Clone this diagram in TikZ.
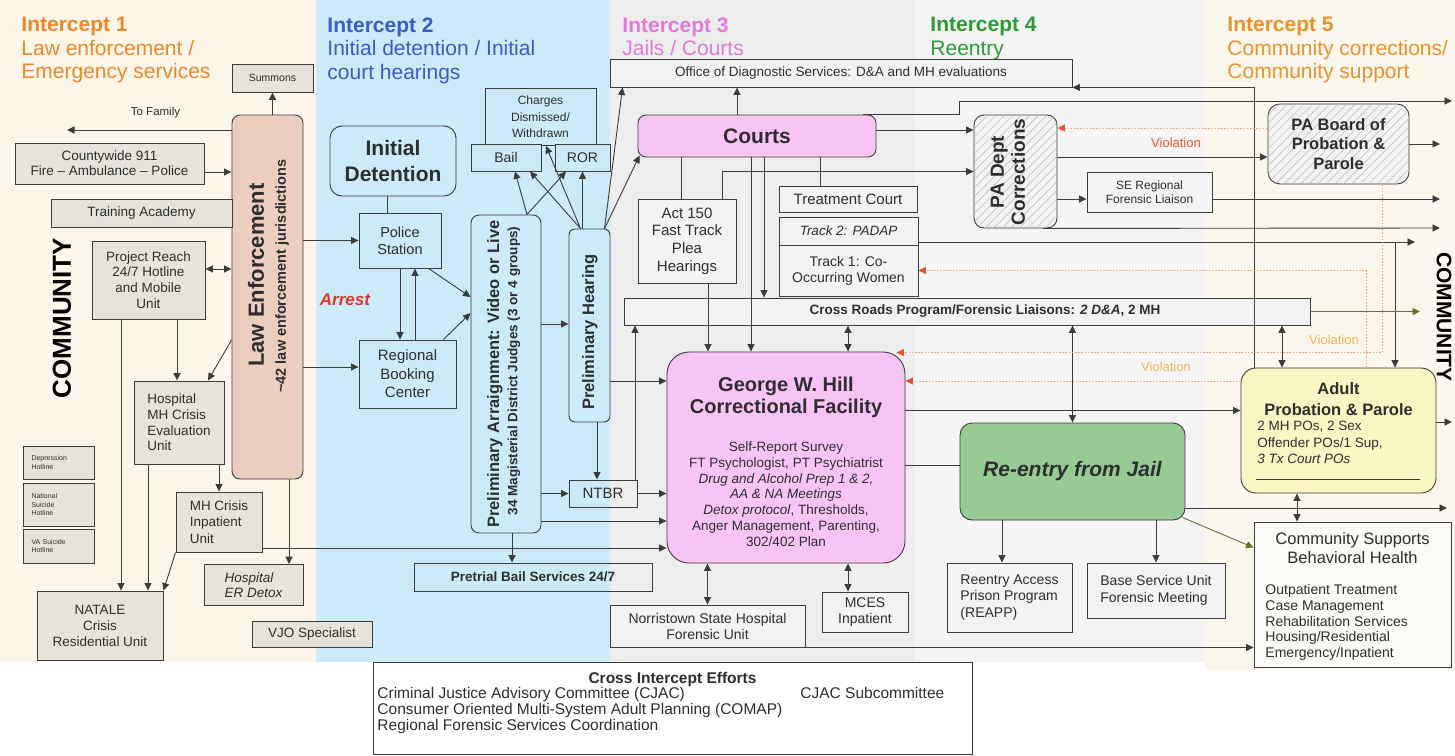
\documentclass[tikz,border=0pt]{standalone}
\usepackage{fontspec}
\setmainfont{Liberation Sans}
\usepackage{tikz}
\usetikzlibrary{arrows.meta}
\usetikzlibrary{patterns.meta}
\usetikzlibrary{calc}

\definecolor{bandone}{HTML}{FCF5EA}
\definecolor{bandtwo}{HTML}{CDEAF8}
\definecolor{bandthree}{HTML}{EDEDED}
\definecolor{bandfour}{HTML}{F4F4F4}
\definecolor{bandfive}{HTML}{FCF7EC}
\definecolor{fillone}{HTML}{E6E4D9}
\definecolor{fillthree}{HTML}{F2F2F2}
\definecolor{lawfill}{HTML}{EBCEC0}
\definecolor{pinkfill}{HTML}{F7C4F4}
\definecolor{greenfill}{HTML}{96CB94}
\definecolor{yellowfill}{HTML}{FAF6C4}
\definecolor{csfill}{HTML}{FAFAF6}
\definecolor{edge}{HTML}{3C3C3C}
\definecolor{txt}{HTML}{2E2E2E}
\definecolor{hdone}{HTML}{E8892C}
\definecolor{hdtwo}{HTML}{3C5CC4}
\definecolor{hdthree}{HTML}{E27ADB}
\definecolor{hdfour}{HTML}{2E9A35}
\definecolor{hdfive}{HTML}{E8922E}
\definecolor{arrestred}{HTML}{D93A2B}
\definecolor{violred}{HTML}{E4552E}
\definecolor{violline}{HTML}{F1A878}
\definecolor{violorange}{HTML}{F0B25C}
\definecolor{olivearrow}{HTML}{6C6E36}
\definecolor{hatchgray}{HTML}{B8B8B8}

\newcommand\fsz[2]{\fontsize{#1}{#2}\selectfont}

\tikzset{
bx/.style={
  rectangle,
  inner sep=1pt,
  align=center,
  draw=edge,
  line width=0.9pt,
  text=txt
  },
b1/.style={bx, fill=fillone},
b2/.style={bx, fill=bandtwo},
b3/.style={bx, fill=fillthree},
rb/.style={bx, rounded corners=8pt},
hatch/.style={bx, rounded corners=10pt, fill=fillthree,
  postaction={pattern={Lines[angle=45,distance=6pt,line width=0.5pt]}, pattern color=hatchgray}},
wh/.style 2 args={minimum width=#1, minimum height=#2},
tx/.style={inner sep=0pt, align=center, text=txt},
hd/.style={anchor=north west, align=left, inner sep=0pt, font=\fsz{21}{23.5}},
viol/.style={draw=violline, dash pattern=on 1.6pt off 1.6pt,
  -{Triangle[length=7.5pt,width=7pt,color=violred]}}
}

\begin{document}
\begin{tikzpicture}[x=1pt,y=-1pt,>={Triangle[length=7.5pt,width=7pt]},line width=0.9pt,color=edge]
\useasboundingbox (0,0) rectangle (1455,755);
\fill[bandone] (0,0) rectangle (316,662);
\fill[bandtwo] (316,0) rectangle (610,662);
\fill[bandthree] (610,0) rectangle (915,662);
\fill[bandfour] (915,0) rectangle (1205,662);
\fill[bandfive] (1205,0) rectangle (1455,670);

\node[hd,text=hdone] (hone) at (21,17) {\textbf{Intercept 1}\\Law enforcement /\\Emergency services};
\node[hd,text=hdtwo] (htwo) at (327,17) {\textbf{Intercept 2}\\Initial detention / Initial\\court hearings};
\node[hd,text=hdthree] (hthree) at (622,17) {\textbf{Intercept 3}\\Jails / Courts};
\node[hd,text=hdfour] (hfour) at (930,17) {\textbf{Intercept 4}\\Reentry};
\node[hd,text=hdfive] (hfive) at (1227,17) {\textbf{Intercept 5}\\Community corrections/\\Community support};

% intercept 1
\node[b1,wh={81}{28},font=\fsz{10.5}{12}] (summons) at (272.5,78) {Summons};
\node[rb,fill=lawfill,wh={71}{364}] (lawenf) at (267.5,297) {};
\node[tx,rotate=90,font=\bfseries\fsz{22}{24}] (lawtitle) at (256,275) {Law Enforcement};
\node[tx,rotate=90,font=\bfseries\fsz{14.5}{16}] (lawsub) at (282,276) {\textasciitilde 42 law enforcement jurisdictions};
\node[b1,wh={189}{41},font=\fsz{13.5}{15}] (cw911) at (109.5,163.5) {Countywide 911\\Fire -- Ambulance -- Police};
\node[b1,wh={181}{28},font=\fsz{13.5}{15}] (academy) at (141.5,213) {Training Academy};
\node[b1,wh={113}{78},font=\fsz{13.5}{15.7}] (reach) at (148.5,280) {Project Reach\\24/7 Hotline\\and Mobile\\Unit};
\node[b1,wh={90}{83},align=left,font=\fsz{13.5}{15.7}] (hospeval) at (179,422.5) {Hospital\\MH Crisis\\Evaluation\\Unit};
\node[b1,wh={86}{60},align=left,font=\fsz{13.5}{16.5}] (crisisinp) at (219,522) {MH Crisis\\Inpatient\\Unit};
\node[b1,wh={99}{41},align=left,font=\itshape\fsz{13.5}{15.5}] (erdetox) at (253.5,585) {Hospital\\ER Detox};
\node[b1,wh={126}{69},font=\fsz{13.5}{16}] (natale) at (100,625.5) {NATALE\\Crisis\\Residential Unit};
\node[b1,wh={71}{33},text width=54,align=left,font=\fsz{7}{8.5}] (hotdep) at (58.5,462.5) {Depression\\Hotline};
\node[b1,wh={71}{43},text width=54,align=left,font=\fsz{7}{8.5}] (hotnat) at (58.5,504.5) {National\\Suicide\\Hotline};
\node[b1,wh={71}{34},text width=54,align=left,font=\fsz{7}{8.5}] (hotva) at (58.5,546) {VA Suicide\\Hotline};
\node[b1,wh={120}{26},font=\fsz{13.5}{15}] (vjo) at (312,634) {VJO Specialist};
\node[tx,rotate=90,text=black,font=\bfseries\fsz{26}{28}] (commleft) at (62,318) {COMMUNITY};
\coordinate (tofam) at (67,130);
\node[tx,font=\fsz{11.5}{13}] (tofamtxt) at (155.5,113) {To Family};

% intercept 2
\node[rb,fill=bandtwo,rounded corners=12pt,wh={126}{70},font=\bfseries\fsz{21}{26}] (initdet) at (393,161) {Initial\\Detention};
\node[b2,wh={82}{55},font=\fsz{14.5}{17}] (police) at (400,240.5) {Police\\Station};
\node[b2,wh={97}{68},font=\fsz{15}{18.5}] (rbc) at (407.5,374) {Regional\\Booking\\Center};
\node[rb,fill=bandtwo,wh={70}{318}] (arraign) at (506,374) {};
\node[tx,rotate=90,font=\bfseries\fsz{16.5}{18}] (arrtitle) at (495,374) {Preliminary Arraignment: Video or Live};
\node[tx,rotate=90,font=\bfseries\fsz{13.5}{15}] (arrsub) at (514,371) {34 Magisterial District Judges (3 or 4 groups)};
\node[rb,fill=bandtwo,rounded corners=6pt,wh={41}{193}] (hearing) at (589.5,325.5) {};
\node[tx,rotate=90,font=\bfseries\fsz{16.5}{18}] (heartitle) at (590,332) {Preliminary Hearing};
\node[bx,wh={68}{27},font=\fsz{15}{17}] (ntbr) at (603,493.5) {NTBR};
\node[bx,wh={238}{28},font=\bfseries\fsz{13.5}{15}] (pretrial) at (533,577) {Pretrial Bail Services 24/7};
\node[b2,wh={111}{57},font=\fsz{12}{16.5}] (charges) at (540.5,117) {Charges\\Dismissed/\\Withdrawn};
\node[b2,wh={70}{27},font=\fsz{14}{16}] (bail) at (506,157.5) {Bail};
\node[b2,wh={55}{27},font=\fsz{14}{16}] (ror) at (582.5,157.5) {ROR};
\node[tx,text=arrestred,font=\bfseries\itshape\fsz{17}{19}] (arrest) at (345,300) {Arrest};

% intercept 3
\node[b3,wh={462}{28},font=\fsz{13.5}{15}] (ods) at (841,73) {Office of Diagnostic Services: D\&A and MH evaluations};
\node[rb,fill=pinkfill,wh={238}{42},font=\bfseries\fsz{21}{24}] (courts) at (757,136) {Courts};
\node[b3,wh={98}{84},font=\fsz{15}{17.7}] (act150) at (687,241) {Act 150\\Fast Track\\Plea\\Hearings};
\node[b3,wh={138}{26},font=\fsz{15}{17}] (treat) at (848,199) {Treatment Court};
\node[b3,wh={139}{28},font=\itshape\fsz{13.5}{15}] (track2) at (848.5,231) {Track 2: PADAP};
\node[b3,wh={139}{51},font=\fsz{14}{16}] (track1) at (848.5,270.5) {Track 1: Co-\\Occurring Women};
\node[b3,wh={686}{27},font=\bfseries\fsz{13.5}{15}] (crossroads) at (967,311.5) {\hspace*{36pt}Cross Roads Program/Forensic Liaisons: \textit{2 D\&A}, 2 MH};
\node[rb,fill=pinkfill,rounded corners=22pt,wh={238}{211}] (gwh) at (786,457.5) {};
\node[tx,font=\bfseries\fsz{20}{21.5}] (gwhtitle) at (786,397.5) {George W. Hill\\Correctional Facility};
\node[tx,font=\fsz{13.5}{15.8}] (gwhbody) at (786,494) {Self-Report Survey\\FT Psychologist, PT Psychiatrist\\\textit{Drug and Alcohol Prep 1 \& 2,}\\\textit{AA \& NA Meetings}\\\textit{Detox protocol}, Thresholds,\\Anger Management, Parenting,\\302/402 Plan};
\node[b3,wh={195}{42},font=\fsz{14}{16}] (norris) at (707.5,626) {Norristown State Hospital\\Forensic Unit};
\node[b3,wh={86}{40},font=\fsz{14}{16}] (mces) at (865,612) {MCES\\Inpatient};

% intercept 4
\node[hatch,wh={83}{113}] (padc) at (1015.5,171.5) {};
\node[tx,rotate=90,font=\bfseries\fsz{19}{21}] (padctitle) at (1008,172) {PA Dept\\Corrections};
\node[b3,wh={125}{40},font=\fsz{12}{14.5}] (seliaison) at (1149.5,192) {SE Regional\\Forensic Liaison};
\node[rb,fill=greenfill,rounded corners=12pt,wh={225}{97},font=\bfseries\itshape\fsz{21}{24}] (reentry) at (1072.5,471.5) {Re-entry from Jail};
\node[b3,wh={125}{69},align=left,font=\fsz{14}{16.5}] (reapp) at (1009.5,597.5) {Reentry Access\\Prison Program\\(REAPP)};
\node[b3,wh={138}{55},align=left,font=\fsz{14}{16.5}] (baseunit) at (1156,590.5) {Base Service Unit\\Forensic Meeting};

% intercept 5
\node[hatch,rounded corners=12pt,wh={141}{80},font=\bfseries\fsz{16.5}{19.5}] (pabpp) at (1338.5,144) {PA Board of\\Probation \&\\Parole};
\node[rb,fill=yellowfill,rounded corners=15pt,wh={195}{125}] (app) at (1338.5,430.5) {};
\node[tx,font=\bfseries\fsz{16.5}{20.5}] (apptitle) at (1338.5,399) {Adult\\Probation \& Parole};
\node[tx,anchor=north west,align=left,font=\fsz{13.5}{16.5}] (appbody) at (1257,421) {2 MH POs, 2 Sex\\Offender POs/1 Sup,\\\textit{3 Tx Court POs}};
\draw[line width=1.3pt] ([xshift=15,yshift=14]app.south west) -- ([xshift=-16,yshift=14]app.south east);
\node[bx,fill=csfill,wh={197}{145}] (commsup) at (1352.5,594.5) {};
\node[tx,font=\fsz{16.5}{19}] (cstitle) at (1352.5,548.5) {Community Supports\\Behavioral Health};
\node[tx,anchor=north west,align=left,font=\fsz{14}{15.7}] (csbody) at (1265,584) {Outpatient Treatment\\Case Management\\Rehabilitation Services\\Housing/Residential\\Emergency/Inpatient};
\node[tx,rotate=-90,text=black,font=\bfseries\fsz{21}{23}] (commright) at (1444,317) {COMMUNITY};

% cross intercept efforts
\node[bx,fill=white,wh={599}{92}] (cross) at (672.5,708) {};
\node[tx,font=\bfseries\fsz{15.5}{17}] (crosstitle) at (672.5,679) {Cross Intercept Efforts};
\node[tx,anchor=north west,align=left,font=\fsz{15.5}{16}] (crossbody) at (377,687) {Criminal Justice Advisory Committee (CJAC)\\Consumer Oriented Multi-System Adult Planning (COMAP)\\Regional Forensic Services Coordination};
\node[tx,anchor=north west,font=\fsz{15.5}{16}] (cjacsub) at (800,687) {CJAC Subcommittee};

% connectors, intercept 1
\draw[->] (summons.south |- lawenf.north) -- (summons.south);
\draw[->] (lawenf.west |- tofam) -- (tofam);
\draw[->] ([yshift=-8.5]cw911.east) -- ([yshift=-8.5]cw911.east -| lawenf.west);
\draw[<->] ([yshift=11]reach.east) -- ([yshift=11]reach.east -| lawenf.west);
\draw[->] ([xshift=28.5]reach.south) -- ([xshift=28.5]reach.south |- hospeval.north);
\draw[->] ([xshift=-27.5]reach.south) -- ([xshift=-27.5]reach.south |- natale.north);
\draw[->] ([yshift=-43]lawenf.west) -- ([xshift=29]hospeval.north);
\draw[->] ([xshift=-31]hospeval.south) -- ([xshift=-31]hospeval.south |- natale.north);
\draw[->] (crisisinp.north |- hospeval.south) -- (crisisinp.north);
\draw[->] (crisisinp.south west) -- (natale.north east);
\draw[->] ([xshift=21.5]lawenf.south) -- ([xshift=21.5]lawenf.south |- erdetox.north);
\draw[->] ([yshift=-26]crisisinp.east) -- ([yshift=-26]crisisinp.east -| gwh.west);

% intercept 2
\draw ([xshift=-6]initdet.south) -- ([xshift=-6]initdet.south |- police.north);
\draw[->] (lawenf.east |- police.west) -- (police.west);
\draw[->] ([yshift=7]rbc.west -| lawenf.east) -- ([yshift=7]rbc.west);
\draw[->] (police.south) -- (police.south |- rbc.north);
\draw[->] ([xshift=15]police.south |- rbc.north) -- ([xshift=15]police.south);
\draw[->] ([xshift=-13]police.south east) -- ([yshift=77]arraign.west);
\draw[->] ([xshift=-13]rbc.north east) -- ([yshift=61]arraign.west);
\draw[->] ([yshift=50]arraign.east) -- ([yshift=50]arraign.east -| hearing.west);
\draw[->] (arraign.east |- ntbr.west) -- (ntbr.west);
\draw[->] ([xshift=7.5]hearing.south) -- ([xshift=7.5]hearing.south |- ntbr.north);
\draw[->] (ntbr.east) -- (ntbr.east -| gwh.west);
\draw[->] ([yshift=-147]arraign.east) -- ([yshift=-147]arraign.east -| gwh.west);
\draw[->] ([xshift=6]arraign.south) -- ([xshift=6]arraign.south |- pretrial.north);
\draw[->] ([yshift=-55.5]hearing.east) -- ([yshift=-55.5]hearing.east -| gwh.west);
\draw[->] ([xshift=32]ntbr.north) -- ([xshift=32]ntbr.north |- crossroads.south);
\draw[->] ([xshift=21]arraign.north) -- ([xshift=9]bail.south);
\draw[->] ([xshift=21]arraign.north) -- ([xshift=-16.5]ror.south);
\draw[->] ([xshift=-9]hearing.north) -- ([xshift=24]bail.south);
\draw[->] ([xshift=-9]hearing.north) -- ([xshift=5.5]charges.south);
\draw[->] (ror.south |- hearing.north) -- (ror.south);
\draw[->] ([xshift=15]hearing.north) -- ([xshift=13]ods.south west);
\draw[->] ([xshift=15]hearing.north) -- ([xshift=2,yshift=2]courts.south west);

% intercept 3 and 4
\coordinate (outa) at (1452,101);
\coordinate (outb) at (1440,144);
\coordinate (outc) at (1440,199);
\coordinate (outd) at (1440,228);
\coordinate (oute) at (1415,242);
\coordinate (outf) at (1420,311.5);
\coordinate (outg) at (1447,508);
\coordinate (outh) at (1452,422);
\draw[->] ([xshift=-20]courts.north) -- ([xshift=-20]courts.north |- ods.south);
\draw ([xshift=-6]act150.north |- courts.south) -- ([xshift=-6]act150.north);
\draw[->] ([xshift=35]act150.north) |- (padc.west);
\draw[->] ([xshift=21]act150.south) -- ([xshift=21]act150.south |- gwh.north);
\draw[->] ([xshift=-6]courts.south) -- ([xshift=-6]courts.south |- gwh.north);
\draw[->] ([xshift=7]courts.south) -- ([xshift=7]courts.south |- crossroads.north);
\draw ([xshift=-28]treat.north |- courts.south) -- ([xshift=-28]treat.north);
\draw[->] ([xshift=-13]courts.north east) -- ([xshift=-14]padc.north west) |- (outa);
\draw[->] ([yshift=6]courts.east) -- ([yshift=6]courts.east -| padc.west);
\draw[->] ([yshift=-7]seliaison.west -| padc.east) -- ([yshift=-7]seliaison.west);
\draw[->] ([yshift=-13]pabpp.west -| padc.east) -- ([yshift=-13]pabpp.west);
\draw[->] (pabpp.east) -- (outb);
\draw[->] ([yshift=-7]seliaison.east) -- (outc);
\draw[->] ([xshift=-14]padc.south east) -- (outd);
\draw[->] ([yshift=-11]track2.east) -- (oute);
\draw[->] ([xshift=56.5]app.north |- oute) -- ([xshift=56.5]app.north);
\draw[->,olivearrow] (crossroads.east) -- (outf);
\draw[<->] ([xshift=-56.5]app.north |- crossroads.south) -- ([xshift=-56.5]app.north);
\draw[<->] (reentry.north |- crossroads.south) -- (reentry.north);
\draw[<->] ([xshift=62]gwh.north |- crossroads.south) -- ([xshift=62]gwh.north);
\draw[<->] (norris.north |- gwh.south) -- (norris.north);
\draw[<->] ([xshift=-17]mces.north |- gwh.south) -- ([xshift=-17]mces.north);
\draw[->] ([yshift=20]app.west -| gwh.east) -- ([yshift=20]app.west);
\draw ([yshift=6]reentry.west -| gwh.east) -- ([yshift=6]reentry.west);
\draw[->] ([xshift=-7.5]reapp.north |- reentry.south) -- ([xshift=-7.5]reapp.north);
\draw[->] (baseunit.north |- reentry.south) -- (baseunit.north);
\draw[->] ([yshift=-36.5]reentry.east) -- (outg);
\draw[->,olivearrow] ([xshift=-3,yshift=3]reentry.south east) -- ([yshift=-26]commsup.north west);
\draw[<->] ([xshift=-41.5]app.south) -- ([xshift=-41.5]app.south |- commsup.north);
\draw[->] ([yshift=8.5]app.east) -- (outh);
\draw[->] (norris.south east) -- (norris.south east -| commsup.west);
\draw[->] ([xshift=-84.5]app.north) |- (ods.south east);

% violations
\draw[viol] ([yshift=16]pabpp.west) -- ([yshift=16]pabpp.west -| padc.east);
\draw[viol] ([xshift=27.5]app.north) |- (track1.east);
\draw[viol] ([xshift=43.5]pabpp.south) |- ([xshift=-9,yshift=-1]gwh.north east);
\draw[viol] ([yshift=49.5]app.west) -- ([yshift=49.5]app.west -| gwh.east);
\node[tx,text=violred,font=\fsz{13}{15}] (violone) at (1176,143) {Violation};
\node[tx,text=violorange,font=\fsz{13}{15}] (violtwo) at (1334,340) {Violation};
\node[tx,text=violorange,font=\fsz{13}{15}] (violthree) at (1166,367) {Violation};
\end{tikzpicture}
\end{document}
